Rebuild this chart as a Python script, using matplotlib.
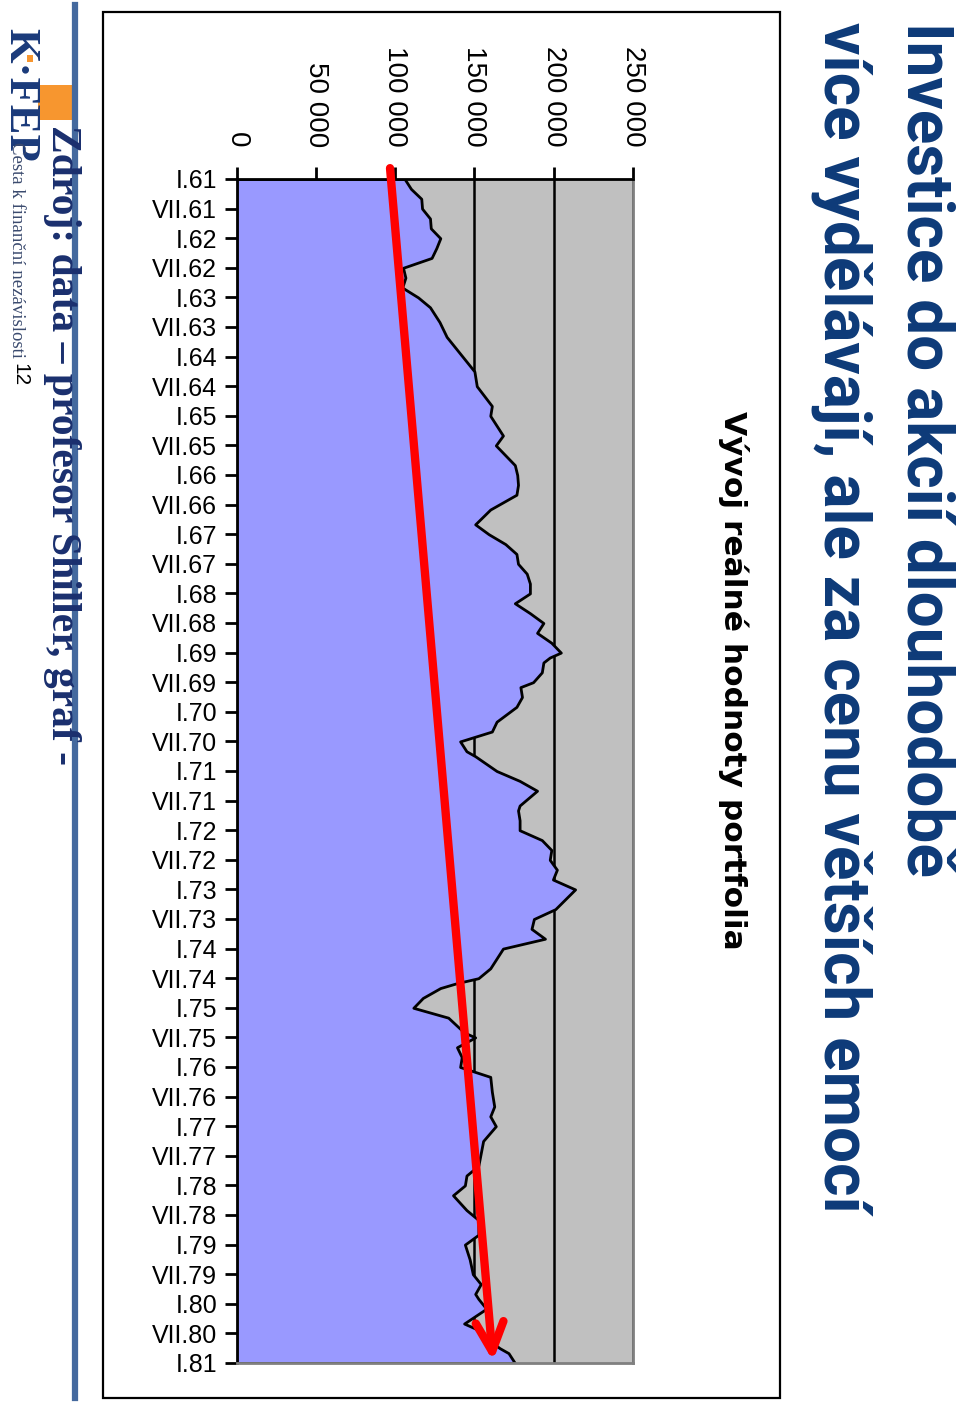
import matplotlib
matplotlib.use('Agg')
import matplotlib.pyplot as plt
from matplotlib.patches import Rectangle
from matplotlib.lines import Line2D

plt.rcParams['font.family'] = ['Liberation Sans', 'DejaVu Sans']

months = [0, 2, 4, 6, 8, 10, 12, 14, 16, 18, 20, 22, 24, 26, 29, 32, 35, 39,
          42, 46, 48, 52, 54, 56, 58, 60, 62, 64, 67, 70, 72, 74, 76, 78, 80,
          82, 84, 86, 88, 90, 92, 94, 96, 97, 98, 100, 102, 103, 105, 107,
          110, 112, 114, 116, 117, 120, 122, 124, 127, 128, 130, 132, 134,
          136, 138, 140, 142, 144, 148, 150, 152, 154, 156, 158, 160, 162,
          163, 164, 166, 168, 170, 173, 174, 176, 178, 180, 181, 182, 185,
          188, 190, 192, 195, 200, 202, 204, 206, 209, 211, 214, 216, 219,
          222, 224, 226, 227, 229, 232, 233, 235, 237, 238, 240]
values = [106000, 110000, 116500, 117000, 122000, 122500, 128500, 126000,
          123000, 105000, 106500, 104500, 114500, 122000, 128000, 132500,
          140000, 150000, 151500, 161000, 160000, 168000, 163500, 169500,
          175500, 177000, 177500, 176500, 160000, 150500, 159000, 169500,
          176500, 177500, 183000, 185000, 185000, 175500, 185000, 193500,
          189500, 198500, 204500, 197500, 193500, 192500, 187000, 179000,
          180000, 176500, 164000, 161000, 141000, 145000, 150500, 164000,
          178500, 189500, 178500, 177500, 178500, 178500, 192500, 198500,
          197500, 202000, 199500, 213500, 201000, 187500, 186000, 194500,
          168000, 164000, 160000, 152500, 139000, 128500, 117500, 111500,
          133500, 143500, 150500, 139000, 142000, 141000, 150500, 160000,
          161000, 162500, 160000, 163500, 155500, 152500, 145000, 144000,
          136500, 145000, 152500, 152500, 144000, 147000, 149000, 154000,
          150500, 152500, 157500, 143500, 150500, 157500, 166000, 171500,
          175500]

years = list(range(61, 82))
cat_labels = []
for yr in years:
    cat_labels.append('I.%d' % yr)
    if yr != 81:
        cat_labels.append('VII.%d' % yr)
value_ticks = [0, 50000, 100000, 150000, 200000, 250000]

# trend arrow (value, month)
arrow_start = (96800, -2.2)
arrow_end = (161700, 239.6)

W, H = 960, 1406
fig = plt.figure(figsize=(9.6, 14.06), dpi=100)

def fx(px):
    return px / W

def fy(py):
    return 1 - py / H

ax = fig.add_axes([fx(236.5), fy(1363), fx(633) - fx(236.5), fy(179) - fy(1363)])
ax.set_facecolor('#C0C0C0')
ax.fill_betweenx(months, 0, values, facecolor='#9999FF', edgecolor='black',
                 linewidth=2, zorder=2)
ax.set_xlim(0, 250000)
ax.set_ylim(240, 0)
ax.set_axisbelow(True)
ax.grid(axis='x', color='black', linewidth=1.8)

ax.xaxis.tick_top()
ax.set_xticks(value_ticks)
ax.set_xticklabels(['{:,}'.format(v).replace(',', ' ') for v in value_ticks],
                   rotation=-90, fontsize=20, va='bottom')
ax.set_yticks(range(0, 241, 6))
ax.set_yticklabels(cat_labels, fontsize=18)
ax.tick_params(axis='x', direction='out', length=9, width=2, pad=14)
ax.tick_params(axis='y', direction='out', length=9, width=2, pad=5)
for s in ['top', 'left']:
    ax.spines[s].set_color('black')
    ax.spines[s].set_linewidth(2)
for s in ['right', 'bottom']:
    ax.spines[s].set_color('#808080')
    ax.spines[s].set_linewidth(2)

ax.annotate('', xy=arrow_end, xytext=arrow_start, annotation_clip=False,
            arrowprops=dict(arrowstyle='->,head_length=1.05,head_width=0.5',
                            color='#FF0000', lw=6, mutation_scale=20,
                            shrinkA=0, shrinkB=0), zorder=5)

# chart title
fig.text(fx(733), fy(680), 'Vývoj reálné hodnoty portfolia', rotation=-90,
         fontsize=22.5, fontweight='bold', family='DejaVu Sans',
         ha='center', va='center')

# slide title
navy = '#0D3A78'
fig.text(fx(925), fy(22), 'Investice do akcií dlouhodobě', rotation=-90,
         fontsize=46, fontweight='bold', color=navy,
         family=['Liberation Sans Narrow', 'Roboto', 'DejaVu Sans'],
         ha='center', va='top')
fig.text(fx(842), fy(22), 'více vydělávají, ale za cenu větších emocí',
         rotation=-90, fontsize=46, fontweight='bold', color=navy,
         family=['Liberation Sans Narrow', 'Roboto', 'DejaVu Sans'],
         ha='center', va='top')

# frame around the chart
fig.add_artist(Rectangle((fx(103), fy(1398)), fx(780) - fx(103),
                         fy(12) - fy(1398), fill=False, edgecolor='black',
                         linewidth=1.6))

# left footer
fig.add_artist(Rectangle((fx(38), fy(120)), fx(35), 35 / H,
                         facecolor='#F7962F', edgecolor='none'))
fig.text(fx(62), fy(125), 'Zdroj: data – profesor Shiller, graf -',
         rotation=-90, fontsize=30, fontweight='bold', color='#1A2F6E',
         family='Liberation Serif', ha='center', va='top')
fig.add_artist(Line2D([fx(75), fx(75)], [fy(5), fy(1398)], color='#44699E',
                      linewidth=4.5))
fig.text(fx(20), fy(28), 'K·FEP', rotation=-90, fontsize=32,
         fontweight='bold', color='#1A3A7A', family='Liberation Serif',
         ha='center', va='top')
fig.add_artist(Rectangle((fx(27), fy(62)), fx(6), 7 / H,
                         facecolor='#F7962F', edgecolor='none'))
fig.text(fx(16), fy(142), 'Cesta k finanční nezávislosti', rotation=-90,
         fontsize=13.5, color='#3A4A6E', family='Liberation Serif',
         ha='center', va='top')
fig.text(fx(20), fy(363), '12', rotation=-90, fontsize=15, color='black',
         ha='center', va='top')

fig.savefig('out.png', dpi=100)
